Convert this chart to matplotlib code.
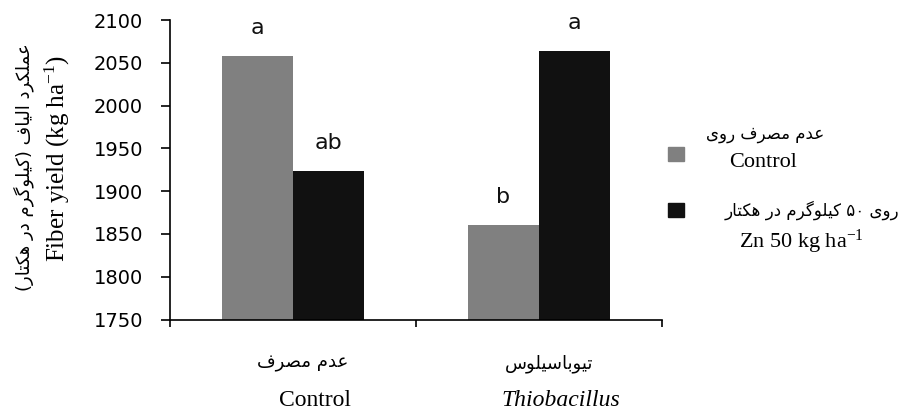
"""
Fiber yield under zinc and Thiobacillus treatments
grouped bar chart with Persian / English labels
"""

import re
import numpy as np
import matplotlib
matplotlib.use('Agg')
import matplotlib.pyplot as plt
from matplotlib.patches import Rectangle

plt.rcParams['mathtext.fontset'] = 'custom'
plt.rcParams['mathtext.rm'] = 'Liberation Serif'
plt.rcParams['mathtext.it'] = 'Liberation Serif:italic'

# Data
groups_fa = ['عدم مصرف', 'تیوباسیلوس']
groups_en = ['Control', 'Thiobacillus']
series_fa = ['عدم مصرف روی', 'روی ۵۰ کیلوگرم در هکتار']
series_en = ['Control', 'Zn 50 kg ha$^{-1}$']
zn_control = [2058, 1861]
zn_50 = [1924, 2064]
letters_control = ['a', 'b']
letters_zn50 = ['ab', 'a']
yticks = [1750, 1800, 1850, 1900, 1950, 2000, 2050, 2100]

# Persian shaping: presentation forms (isolated, final, initial, medial)
FORMS = {
  'ا': ('\uFE8D', '\uFE8E'),
  'ب': ('\uFE8F', '\uFE90', '\uFE91', '\uFE92'),
  'ت': ('\uFE95', '\uFE96', '\uFE97', '\uFE98'),
  'د': ('\uFEA9', '\uFEAA'),
  'ر': ('\uFEAD', '\uFEAE'),
  'س': ('\uFEB1', '\uFEB2', '\uFEB3', '\uFEB4'),
  'ص': ('\uFEB9', '\uFEBA', '\uFEBB', '\uFEBC'),
  'ع': ('\uFEC9', '\uFECA', '\uFECB', '\uFECC'),
  'ف': ('\uFED1', '\uFED2', '\uFED3', '\uFED4'),
  'ل': ('\uFEDD', '\uFEDE', '\uFEDF', '\uFEE0'),
  'م': ('\uFEE1', '\uFEE2', '\uFEE3', '\uFEE4'),
  'ه': ('\uFEE9', '\uFEEA', '\uFEEB', '\uFEEC'),
  'و': ('\uFEED', '\uFEEE'),
  'ک': ('\uFB8E', '\uFB8F', '\uFB90', '\uFB91'),
  'گ': ('\uFB92', '\uFB93', '\uFB94', '\uFB95'),
  'ی': ('\uFBFC', '\uFBFD', '\uFBFE', '\uFBFF'),
}

def shape(s):
  out = []
  for i, ch in enumerate(s):
    f = FORMS.get(ch)
    if f is None:
      out.append(ch)
      continue
    prev = s[i-1] if i > 0 else ''
    nxt = s[i+1] if i + 1 < len(s) else ''
    join_prev = prev in FORMS and len(FORMS[prev]) == 4
    join_next = len(f) == 4 and nxt in FORMS
    if join_prev and join_next:
      out.append(f[3])
    elif join_prev:
      out.append(f[1])
    elif join_next:
      out.append(f[2])
    else:
      out.append(f[0])
  return ''.join(out)

def fa(s):
  'shape and put in visual (right-to-left) order, digits kept in order'
  tokens = re.findall(r'[\u06F0-\u06F90-9]+|.', shape(s))
  vis = ''.join(reversed(tokens))
  return vis.translate(str.maketrans('()', ')('))

W, H = 904, 412
def fx(px): return px / W
def fy(py): return 1 - py / H

fig = plt.figure(figsize=(W/100, H/100), dpi=100)
ax = fig.add_axes([fx(170), fy(319.5), (662-170)/W, (319.5-20)/H])

x = np.arange(len(groups_en))
w = 0.289
b1 = ax.bar(x - w/2, zn_control, w, color='#808080', zorder=2)
b2 = ax.bar(x + w/2, zn_50, w, color='#111111', zorder=2)

for bars, vals, letters in [(b1, zn_control, letters_control), (b2, zn_50, letters_zn50)]:
  for rect, v, lt in zip(bars, vals, letters):
    ax.annotate(lt, (rect.get_x() + rect.get_width()/2, v), xytext=(0, 20),
                textcoords='offset points', ha='center', va='center',
                fontsize=16, color='#111111')

ax.set_ylim(1750, 2100)
ax.set_yticks(yticks)
ax.set_xlim(-0.5, 1.5)
ax.set_xticks([-0.5, 0.5, 1.5])
ax.set_xticklabels([])
for s in ['top', 'right']:
  ax.spines[s].set_visible(False)
for s in ['left', 'bottom']:
  ax.spines[s].set_linewidth(1.2)
ax.tick_params(axis='y', direction='out', length=6.5, width=1.2, pad=13, labelsize=14)
ax.tick_params(axis='x', direction='out', length=5, width=1.2)

# category labels, Persian over English
for i in x:
  ax.annotate(fa(groups_fa[i]), (i, 0), xycoords=('data', 'axes fraction'),
              xytext=(10, -44), textcoords='offset pixels',
              ha='center', va='center', fontsize=13, family='DejaVu Sans')
  ax.annotate(groups_en[i], (i, 0), xycoords=('data', 'axes fraction'),
              xytext=(22, -80.5), textcoords='offset pixels',
              ha='center', va='center', fontsize=17, family='Liberation Serif',
              style='italic' if i == 1 else 'normal')

# y label in two lines
fig.text(fx(24), fy(167), fa('عملکرد الیاف (کیلوگرم در هکتار)'), rotation=90,
         ha='center', va='center', fontsize=13, family='DejaVu Sans')
fig.text(fx(57), fy(158), 'Fiber yield (kg ha$^{-1}$)', rotation=90,
         ha='center', va='center', fontsize=18, family='Liberation Serif')

# legend
colors = ['#808080', '#111111']
sq_y = [147, 203]
fa_pos = [(765, 134), (812, 210)]
en_pos = [(763, 162), (801, 242)]
for k in range(2):
  fig.add_artist(Rectangle((fx(668), fy(sq_y[k] + 14)), 16/W, 14/H,
                           transform=fig.transFigure, color=colors[k]))
  fig.text(fx(fa_pos[k][0]), fy(fa_pos[k][1]), fa(series_fa[k]),
           ha='center', va='center', fontsize=12, family='DejaVu Sans')
  fig.text(fx(en_pos[k][0]), fy(en_pos[k][1]), series_en[k],
           ha='center', va='center', fontsize=16, family='Liberation Serif')

fig.savefig('out.png', dpi=100)
